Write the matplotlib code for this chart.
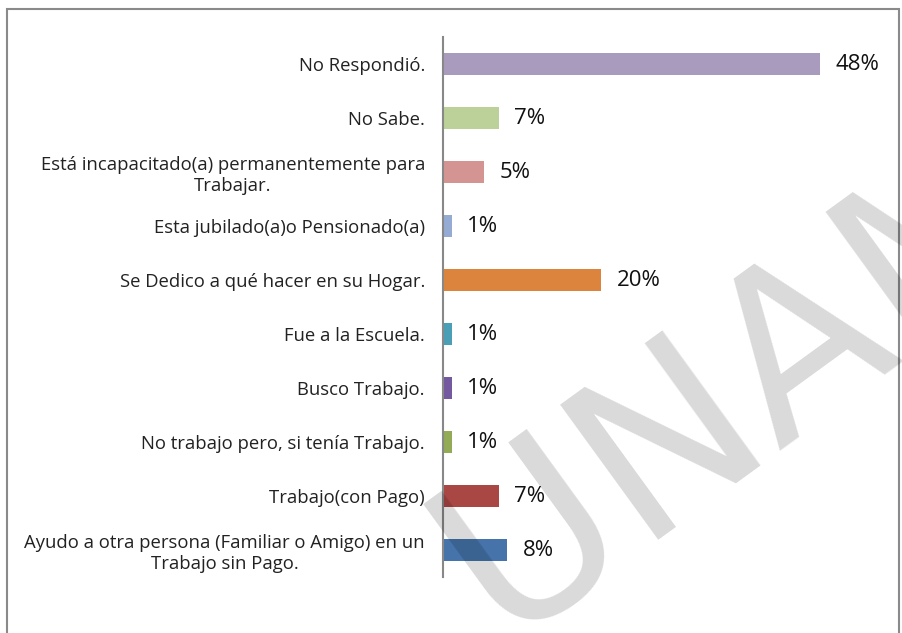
import matplotlib
matplotlib.use("Agg")
import matplotlib.pyplot as plt
from matplotlib.patches import Rectangle

categories = [
    "Ayudo a otra persona (Familiar o Amigo) en un\nTrabajo sin Pago.",
    "Trabajo(con Pago)",
    "No trabajo pero, si tenía Trabajo.",
    "Busco Trabajo.",
    "Fue a la Escuela.",
    "Se Dedico a qué hacer en su Hogar.",
    "Esta jubilado(a)o Pensionado(a)",
    "Está incapacitado(a) permanentemente para\nTrabajar.",
    "No Sabe.",
    "No Respondió.",
]
values = [8.2, 7.1, 1.1, 1.1, 1.1, 20.1, 1.1, 5.2, 7.1, 48.0]
labels = ["8%", "7%", "1%", "1%", "1%", "20%", "1%", "5%", "7%", "48%"]
colors = ["#4674AA", "#A94744", "#93AA56", "#7559A0", "#4A9EB5",
          "#DC843E", "#95ABD4", "#D49592", "#BCD199", "#A99BBD"]

W, H = 902, 633
plt.rcParams['font.family'] = ['Open Sans', 'DejaVu Sans']
fig = plt.figure(figsize=(W / 100, H / 100), dpi=100)

# outer border
fig.patches.append(Rectangle((7 / W, -0.05), (899 - 7) / W, (H - 9) / H + 0.05,
                             transform=fig.transFigure, fill=False,
                             edgecolor="#8a8a8a", linewidth=1.5))

ax_l, ax_r = 443, 880
ax_t, ax_b = 37, 577
ax = fig.add_axes([ax_l / W, 1 - ax_b / H, (ax_r - ax_l) / W, (ax_b - ax_t) / H])
ppu = (820 - 443) / 48.0
ax.set_xlim(0, (ax_r - ax_l) / ppu)
ax.set_ylim(-0.5, len(categories) - 0.5)

y = range(len(categories))
ax.barh(y, values, height=0.41, color=colors, zorder=2)
for yi, v, lab in zip(y, values, labels):
    ax.text(v + 2.0, yi, lab, fontsize=16, va="center", ha="left", color="#111111")

ax.set_yticks(list(y))
ax.set_yticklabels(categories, fontsize=13.3, color="#222222", ha="right",
                   multialignment="center")
ax.tick_params(axis="y", length=0, pad=13)
ax.set_xticks([])
for s in ["top", "right", "bottom"]:
    ax.spines[s].set_visible(False)
ax.spines["left"].set_color("#888888")
ax.spines["left"].set_linewidth(1.5)

# watermark
fig.text(745 / W, 1 - 385 / H, "UNAM", fontsize=165, rotation=36,
         ha="center", va="center", color="black", alpha=0.15,
         family="DejaVu Sans", zorder=10)

fig.savefig("out.png", dpi=100)
